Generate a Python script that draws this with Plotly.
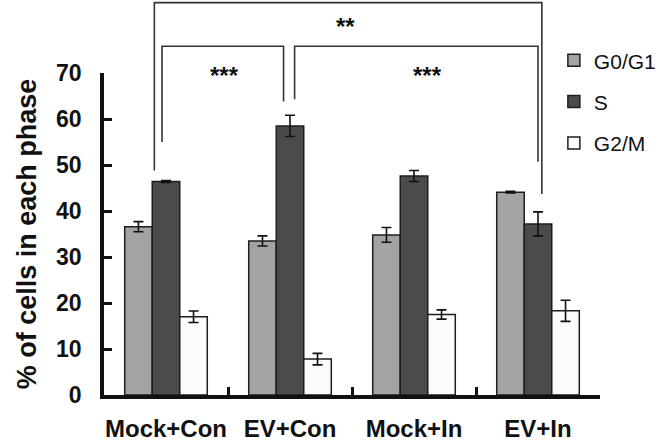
import plotly.graph_objects as go

categories = ["Mock+Con", "EV+Con", "Mock+In", "EV+In"]
phases = ["G0/G1", "S", "G2/M"]
g0g1 = [36.6, 33.5, 34.8, 44.1]
g0g1_err = [1.1, 1.1, 1.6, 0.2]
s_phase = [46.4, 58.5, 47.6, 37.2]
s_err = [0.2, 2.3, 1.2, 2.6]
g2m = [17.0, 7.8, 17.5, 18.3]
g2m_err = [1.25, 1.25, 1.0, 2.3]
y_ticks = [0, 10, 20, 30, 40, 50, 60, 70]

# significance brackets: (left cat, left offset, right cat, right offset,
#   top value, left foot value, right foot value, label, label x (category units), label value)
brackets = [
    (0, -0.094, 3, 0.031, 85.3, 48.8, 43.7, "**", 1.448, 80.15),
    (0, -0.032, 1, -0.052, 75.8, 55.0, 63.8, "***", 0.468, 69.5),
    (1, 0.037, 3, 0.0, 75.8, 64.3, 50.7, "***", 2.105, 69.5),
]

values = [g0g1, s_phase, g2m]
errors = [g0g1_err, s_err, g2m_err]
colors = ["#a3a3a3", "#4b4b4b", "#fbfbfb"]

font_family = "Liberation Sans, Arial, sans-serif"
ymax = y_ticks[-1]
ncat = len(categories)

fig = go.Figure()
for i, (name, vals, errs, col) in enumerate(zip(phases, values, errors, colors)):
    fig.add_trace(go.Bar(
        x=categories, y=vals, name=name,
        marker=dict(color=col, line=dict(color="#1e1e1e", width=1.5)),
        error_y=dict(type="data", array=errs, visible=True,
                     color="#111111", thickness=1.6, width=5),
        legendgroup=name,
    ))

def px(cat, off=0.0):
    return (cat + 0.5 + off) / ncat

shapes = []
annotations = []
for (c1, o1, c2, o2, top, f1, f2, lab, lx, ly) in brackets:
    x1, x2 = px(c1, o1), px(c2, o2)
    shapes.append(dict(
        type="path", xref="paper", yref="paper",
        path=f"M {x1},{f1/ymax} L {x1},{top/ymax} L {x2},{top/ymax} L {x2},{f2/ymax}",
        line=dict(color="#333333", width=1.6),
    ))
    annotations.append(dict(
        x=px(lx), y=ly / ymax, xref="paper", yref="paper",
        text=f"<b>{lab}</b>", showarrow=False,
        font=dict(size=24, color="#111111", family=font_family),
        xanchor="center", yanchor="middle",
    ))

fig.update_layout(
    width=661, height=442,
    margin=dict(l=104, r=61, t=73, b=47, autoexpand=False),
    paper_bgcolor="white", plot_bgcolor="white",
    barmode="group", bargap=0.334, bargroupgap=0,
    font=dict(family=font_family, color="#111111"),
    showlegend=True,
    legend=dict(x=0.907, y=1.102, xanchor="left", yanchor="top",
                font=dict(size=21, family=font_family, color="#111111"),
                tracegroupgap=11, bgcolor="rgba(0,0,0,0)"),
    shapes=shapes, annotations=annotations,
)
fig.update_xaxes(
    showline=True, linecolor="#111111", linewidth=3.5,
    ticks="inside", tickson="boundaries", ticklen=8, tickwidth=3, tickcolor="#111111",
    tickfont=dict(size=24, family=font_family, color="#111111", weight="bold"),
    tickangle=0, automargin=False,
    ticklabelstandoff=9,
    showgrid=False, zeroline=False,
)
fig.update_yaxes(
    range=[0, ymax], tickvals=y_ticks,
    showline=True, linecolor="#111111", linewidth=3.5,
    ticks="inside", ticklen=8, tickwidth=3, tickcolor="#111111",
    tickfont=dict(size=23, family=font_family, color="#111111", weight="bold"),
    ticklabelstandoff=14, automargin=False,
    showgrid=False, zeroline=False,
    title=dict(text="% of cells in each phase",
               font=dict(size=27, family=font_family, color="#111111", weight="bold"),
               standoff=13),
)

fig.write_html("out.html", config={"displayModeBar": False},
               post_script="document.body.style.margin='0';")
